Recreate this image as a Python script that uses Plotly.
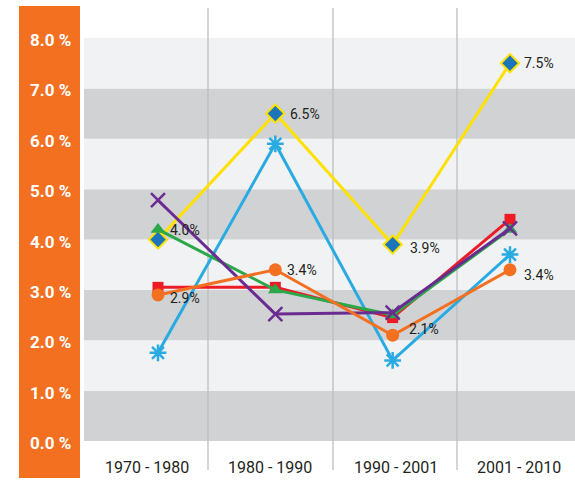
import plotly.graph_objects as go

categories = ["1970 - 1980", "1980 - 1990", "1990 - 2001", "2001 - 2010"]
yellow_vals = [4.0, 6.5, 3.9, 7.5]
cyan_vals = [1.75, 5.9, 1.6, 3.7]
red_vals = [3.05, 3.05, 2.45, 4.4]
green_vals = [4.2, 3.0, 2.5, 4.2]
purple_vals = [4.78, 2.52, 2.55, 4.22]
orange_vals = [2.9, 3.4, 2.1, 3.4]
y_ticks = [0, 1, 2, 3, 4, 5, 6, 7, 8]

W, H = 575, 483
xs = list(range(len(categories)))

# pixel helpers for layout
PX0, PXU = 158.0, 117.33  # data x=0 at px 158, 117.33 px per step
def px2x(px):
    return (px - PX0) / PXU
def py2paper(py):
    return 1 - py / H

fig = go.Figure()

shapes = []
# orange side bar
shapes.append(dict(type="rect", xref="paper", yref="paper", x0=19 / W, x1=80 / W,
                   y0=py2paper(478), y1=py2paper(6), fillcolor="#F37021",
                   line=dict(width=0), layer="below"))
# bands
for v in range(8):
    shapes.append(dict(type="rect", xref="paper", yref="y", x0=84 / W, x1=1,
                       y0=v, y1=v + 1,
                       fillcolor="#D1D2D4" if v % 2 == 0 else "#F1F2F4",
                       line=dict(width=0), layer="below"))
# vertical separators
for px in [208, 333, 457]:
    shapes.append(dict(type="line", xref="x", yref="paper", x0=px2x(px), x1=px2x(px),
                       y0=py2paper(470), y1=py2paper(8),
                       line=dict(color="#BCBEC0", width=1.3), layer="below"))

def add(vals, color, symbol, size, mcolor=None, mline=None, name=""):
    fig.add_trace(go.Scatter(
        x=xs, y=vals, mode="lines+markers", name=name,
        line=dict(color=color, width=3),
        marker=dict(symbol=symbol, size=size, color=mcolor or color,
                    line=mline or dict(width=0, color=color)),
        showlegend=False, hoverinfo="skip"))

add(cyan_vals, "#29ABE2", "asterisk-open", 14, mline=dict(width=2.5, color="#29ABE2"), name="cyan")
add(red_vals, "#ED1C24", "square", 11, name="red")
add(yellow_vals, "#FFE100", "diamond", 14, mcolor="#1B75BB",
    mline=dict(width=2, color="#FFE100"), name="yellow")
add(green_vals, "#2BA84A", "triangle-up", 13, name="green")
add(purple_vals, "#6A2C91", "x-thin-open", 14, mline=dict(width=2.5, color="#6A2C91"), name="purple")
add(orange_vals, "#F37021", "circle", 13, name="orange")

annotations = []
# y labels
for v in y_ticks:
    annotations.append(dict(xref="paper", yref="y", x=73 / W, y=v, text=f"{v:.1f} %",
                            showarrow=False, xanchor="right", yanchor="middle", yshift=-2,
                            font=dict(family="Roboto", size=17, color="white", weight="bold")))
# x labels
for px, cat in zip([147, 270, 396, 519], categories):
    annotations.append(dict(xref="x", yref="paper", x=px2x(px), y=py2paper(467), text=cat,
                            showarrow=False, xanchor="center", yanchor="middle",
                            font=dict(family="Roboto", size=16, color="#231F20")))
# data labels
yellow_shift = [(10, 10), (13, 0), (15, -3), (12, 0)]
orange_shift = [(10, -3), (10, 0), (14, 6), (12, -5)]
for vals, shifts in [(yellow_vals, yellow_shift), (orange_vals, orange_shift)]:
    for i, (v, (dx, dy)) in enumerate(zip(vals, shifts)):
        annotations.append(dict(xref="x", yref="y", x=i, y=v, text=f"{v:.1f}%",
                                showarrow=False, xanchor="left", yanchor="middle",
                                xshift=dx, yshift=dy,
                                font=dict(family="Roboto", size=14, color="#231F20")))

fig.update_layout(
    width=W, height=H,
    margin=dict(l=0, r=0, t=0, b=0),
    paper_bgcolor="white", plot_bgcolor="rgba(0,0,0,0)",
    shapes=shapes, annotations=annotations,
    xaxis=dict(domain=[84 / W, 1], range=[px2x(84), px2x(575)], showgrid=False,
               zeroline=False, showticklabels=False, fixedrange=True),
    yaxis=dict(domain=[py2paper(441), py2paper(38)], range=[0, 8], showgrid=False,
               zeroline=False, showticklabels=False, fixedrange=True),
)

fig.write_html("out.html", config={"displayModeBar": False},
               post_script="document.body.style.margin='0';document.body.style.overflow='hidden';")
